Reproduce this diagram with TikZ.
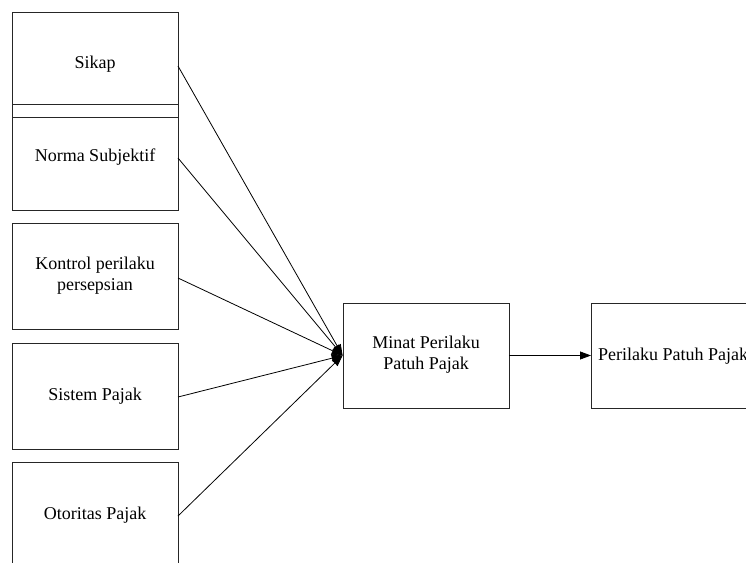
\documentclass[tikz,border=0pt]{standalone}
\usepackage{fontspec}
\setmainfont{Liberation Serif}
\newfontfamily\timesf{Liberation Serif}
\usetikzlibrary{arrows.meta}
\begin{document}
\begin{tikzpicture}[x=1pt,y=-1pt,
  box/.style={draw=black!85,line width=0.8pt,rectangle,inner sep=0pt,fill=white},
  lbl/.style={font=\timesf\fontsize{18}{21}\selectfont,align=center,inner sep=0pt},
  conn/.style={line width=0.8pt,-{Triangle[length=11pt,width=8pt]}}]
\useasboundingbox (0,0) rectangle (746,562);
\clip (0,0) rectangle (746,562);
% left boxes
\node[box,minimum width=166pt,minimum height=92pt] (sikap) at (95,58) {};
\node[box,minimum width=166pt,minimum height=13pt] (strip) at (95,110.5) {};
\node[box,minimum width=166pt,minimum height=93pt] (norma) at (95,163.5) {};
\node[box,minimum width=166pt,minimum height=106pt] (kontrol) at (95,276) {};
\node[box,minimum width=166pt,minimum height=106pt] (sistem) at (95,396) {};
\node[box,minimum width=166pt,minimum height=110pt] (otoritas) at (95,517) {};
\node[lbl] (sikapt) at (95,64) {Sikap};
\node[lbl] (normat) at (95,157) {Norma Subjektif};
\node[lbl] (kontrolt) at (95,276) {Kontrol perilaku\\persepsian};
\node[lbl] (sistemt) at (95,396) {Sistem Pajak};
\node[lbl] (otoritast) at (95,515) {Otoritas Pajak};
% middle and right
\node[box,minimum width=166pt,minimum height=105pt] (minat) at (426,355.5) {};
\node[lbl] (minatt) at (426,355) {Minat Perilaku\\Patuh Pajak};
\node[box,minimum width=200pt,minimum height=105pt,anchor=west] (perilaku) at (591,355.5) {};
\node[lbl,anchor=west] (perilakut) at (598,356) {Perilaku Patuh Pajak};
% connectors
\coordinate (s1) at (178,66);
\coordinate (s2) at (178,158);
\coordinate (s3) at (178,278);
\coordinate (s4) at (178,397);
\coordinate (s5) at (178,516);
\foreach \s in {s1,s2,s3,s4,s5}
  \draw[conn] (\s) -- (minat.west);
\draw[conn] (minat.east) -- (perilaku.west);
\end{tikzpicture}
\end{document}
